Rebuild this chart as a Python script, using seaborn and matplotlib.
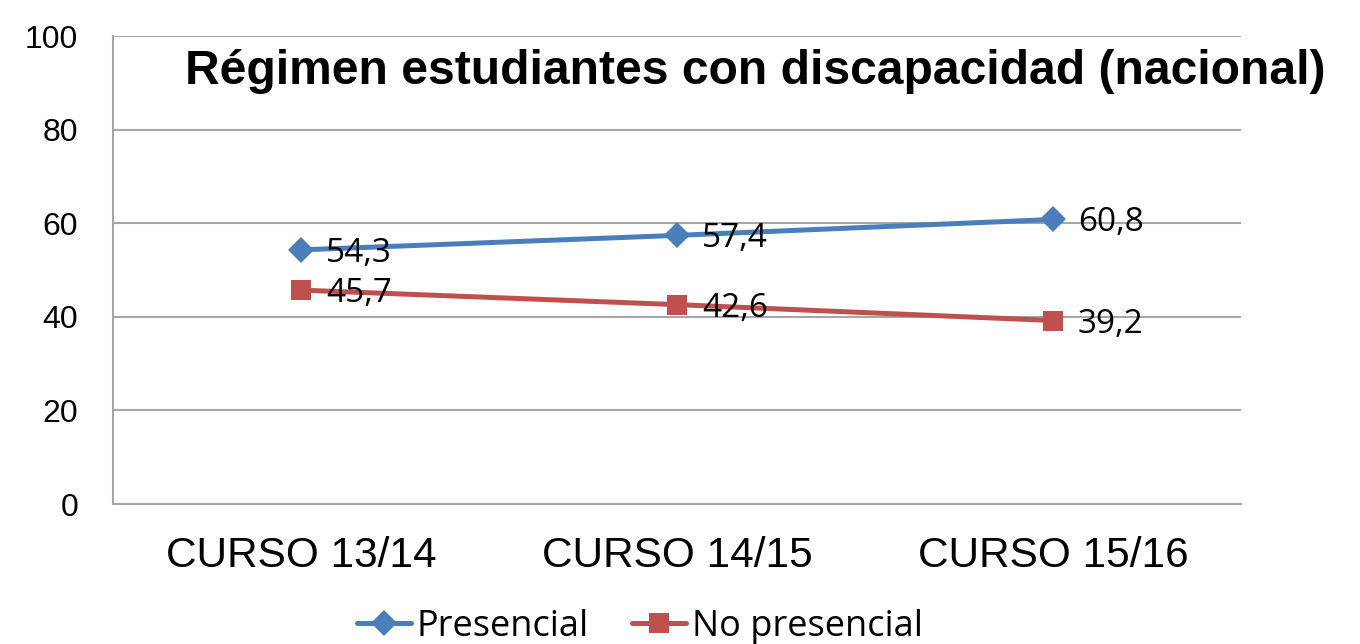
import matplotlib
matplotlib.use("Agg")
import matplotlib.pyplot as plt
import seaborn as sns
import pandas as pd

cursos = ["CURSO 13/14", "CURSO 14/15", "CURSO 15/16"]
presencial = [54.3, 57.4, 60.8]
no_presencial = [45.7, 42.6, 39.2]
series_names = ["Presencial", "No presencial"]
yticks = [0, 20, 40, 60, 80, 100]
title = "Régimen estudiantes con discapacidad (nacional)"

df = pd.DataFrame({
    "curso": cursos * 2,
    "valor": presencial + no_presencial,
    "serie": [series_names[0]] * 3 + [series_names[1]] * 3,
})

sns.set_theme(style="white")
plt.rcParams["font.family"] = ["Liberation Sans", "DejaVu Sans"]
plt.rcParams["text.color"] = "black"

colors = {"Presencial": "#4A7EBB", "No presencial": "#C0504D"}
markers = {"Presencial": "D", "No presencial": "s"}

fig = plt.figure(figsize=(13.6, 6.44), dpi=100)
ax = fig.add_axes([113 / 1360, 1 - 504 / 644, (1241 - 113) / 1360, (504 - 36) / 644])

sns.lineplot(data=df, x="curso", y="valor", hue="serie", style="serie",
             hue_order=series_names, style_order=series_names,
             palette=colors, markers=markers, dashes=False, lw=3.6,
             markersize=14, markeredgewidth=0, ax=ax, sort=False)

for line in ax.lines:
    if line.get_marker() == "D":
        line.set_markersize(13)
    elif line.get_marker() == "s":
        line.set_markersize(14.5)

handles, labels = ax.get_legend_handles_labels()
if ax.get_legend() is not None:
    ax.get_legend().remove()

ax.set_xlim(-0.5, 2.5)
ax.set_ylim(0, 100)
ax.set_yticks(yticks)
ax.set_xlabel("")
ax.set_ylabel("")
ax.grid(axis="y", color="#A6A6A6", lw=1.5)
ax.grid(axis="x", visible=False)
for side in ["top", "right"]:
    ax.spines[side].set_visible(False)
for side in ["left", "bottom"]:
    ax.spines[side].set_color("#A6A6A6")
    ax.spines[side].set_linewidth(1.5)
ax.tick_params(axis="y", labelsize=23, pad=25, length=0, labelcolor="black")
ax.tick_params(axis="x", labelsize=30.5, pad=23, length=0, labelcolor="black")
ax.set_axisbelow(True)

for name, vals in zip(series_names, [presencial, no_presencial]):
    for i, v in enumerate(vals):
        ax.annotate(f"{v:.1f}".replace(".", ","), (i, v), xytext=(18, -2.5),
                    textcoords="offset points", ha="left", va="center",
                    fontsize=24, family=["Open Sans", "DejaVu Sans"], color="black")

fig.text(755 / 1360, 1 - 72 / 644, title, ha="center", va="center",
         fontsize=34.6, fontweight="bold", color="black")

for h in handles:
    h.set_linewidth(3.6)
leg = fig.legend(handles, labels, loc="center", bbox_to_anchor=(640 / 1360, 1 - 627 / 644),
                 ncol=2, frameon=False, prop={"family": "Open Sans", "size": 26},
                 handlelength=1.5, handletextpad=0.15, columnspacing=1.2)
for t in leg.get_texts():
    t.set_color("black")

fig.savefig("out.png", dpi=100)
